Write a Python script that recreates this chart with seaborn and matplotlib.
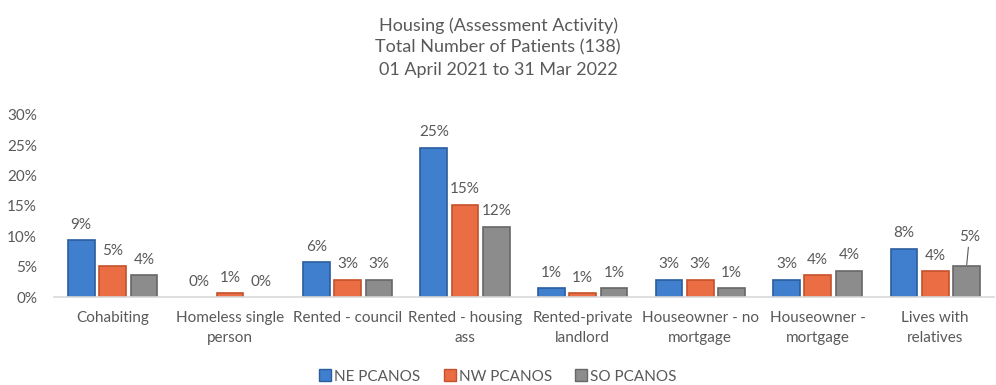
import matplotlib
matplotlib.use("Agg")
import matplotlib.pyplot as plt
import seaborn as sns
import pandas as pd
from matplotlib.patches import Patch

# Share of patients (%) per housing situation, by team
categories = [
    "Cohabiting", "Homeless single\nperson", "Rented - council", "Rented - housing\nass",
    "Rented-private\nlandlord", "Houseowner - no\nmortgage", "Houseowner -\nmortgage",
    "Lives with\nrelatives",
]
series_names = ["NE PCANOS", "NW PCANOS", "SO PCANOS"]
ne_values = [9.4, 0.0, 5.8, 24.6, 1.45, 2.9, 2.9, 8.0]
nw_values = [5.1, 0.7, 2.9, 15.2, 0.7, 2.9, 3.6, 4.3]
so_values = [3.6, 0.0, 2.9, 11.6, 1.45, 1.45, 4.35, 5.1]
y_ticks = [0, 5, 10, 15, 20, 25, 30]

title_lines = [
    "Housing (Assessment Activity)",
    "Total Number of Patients (138)",
    "01 April 2021 to 31 Mar 2022",
]

fill_colors = ["#3F7FCD", "#EB6D43", "#8C8C8C"]
edge_colors = ["#2A5E9E", "#C4522C", "#676767"]
text_color = "#595959"

df = pd.DataFrame({
    "category": categories * 3,
    "team": [s for s in series_names for _ in categories],
    "value": ne_values + nw_values + so_values,
})

sns.set_theme(style="white")
plt.rcParams["font.family"] = ["Lato", "DejaVu Sans"]

fig = plt.figure(figsize=(9.96, 3.85), dpi=100)
ax = fig.add_axes([0.054, 0.228, 0.944, 0.474])

sns.barplot(
    data=df, x="category", y="value", hue="team", order=categories,
    hue_order=series_names, palette=fill_colors, saturation=1, width=0.8, gap=0.15,
    ax=ax, legend=False,
)

for container, ec, vals in zip(ax.containers, edge_colors, [ne_values, nw_values, so_values]):
    for bar, v in zip(container, vals):
        bar.set_edgecolor(ec)
        bar.set_linewidth(1.2 if v > 0 else 0)

# Value labels above every bar
last = len(categories) - 1
for si, (container, vals) in enumerate(zip(ax.containers, [ne_values, nw_values, so_values])):
    for ci, (bar, v) in enumerate(zip(container, vals)):
        x = bar.get_x() + bar.get_width() / 2
        label = f"{v:.0f}%"
        if si == 2 and ci == last:
            ax.annotate(
                label, xy=(x, v), xytext=(2, 16), textcoords="offset points",
                ha="center", va="bottom", fontsize=11, color=text_color,
                arrowprops=dict(arrowstyle="-", color=text_color, lw=0.8,
                                shrinkA=0, shrinkB=1),
            )
        else:
            ax.annotate(
                label, xy=(x, v), xytext=(0, 6), textcoords="offset points",
                ha="center", va="bottom", fontsize=11, color=text_color,
            )

ax.set_ylim(0, 30)
ax.set_yticks(y_ticks)
ax.set_yticklabels([f"{t}%" for t in y_ticks])
ax.set_xlim(-0.5, len(categories) - 0.5)
ax.set_xlabel("")
ax.set_ylabel("")
ax.tick_params(axis="both", length=0, labelsize=11, colors=text_color)
ax.tick_params(axis="x", pad=10)
ax.tick_params(axis="y", pad=12)
for lab in ax.get_xticklabels():
    lab.set_linespacing(1.5)
for side in ["top", "right", "left"]:
    ax.spines[side].set_visible(False)
ax.spines["bottom"].set_color("#D9D9D9")
ax.spines["bottom"].set_linewidth(1.2)

fig.text(0.5, 0.955, "\n".join(title_lines), ha="center", va="top",
         fontsize=13, color=text_color, linespacing=1.45)

handles = [Patch(facecolor=fc, edgecolor=ec, linewidth=1) for fc, ec in zip(fill_colors, edge_colors)]
fig.legend(handles, series_names, loc="center", bbox_to_anchor=(0.5, 0.022),
           ncol=3, frameon=False, fontsize=11, labelcolor=text_color, borderpad=0,
           handlelength=0.8, handleheight=0.8, handletextpad=0.2, columnspacing=1.5)

fig.savefig("out.png", dpi=100)
